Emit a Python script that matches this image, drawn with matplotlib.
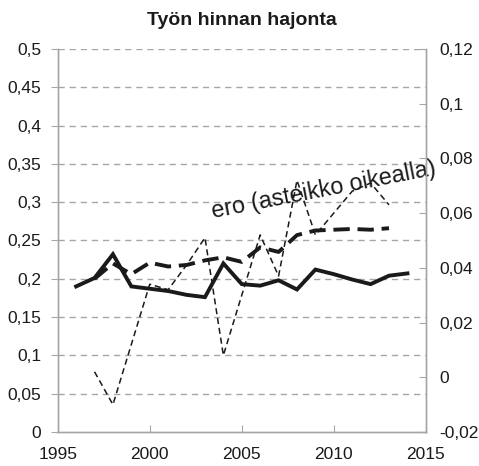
import matplotlib
matplotlib.use('Agg')
import matplotlib.pyplot as plt

plt.rcParams['font.family'] = ['Liberation Sans', 'DejaVu Sans']

# vuodet ja sarjat
years_solid = list(range(1996, 2015))
solid = [0.190, 0.201, 0.232, 0.190, 0.187, 0.184, 0.179, 0.176, 0.220, 0.193,
         0.191, 0.198, 0.186, 0.212, 0.206, 0.199, 0.193, 0.204, 0.207]

years_dash = list(range(1997, 2014))
dash = [0.200, 0.220, 0.206, 0.221, 0.216, 0.218, 0.224, 0.228, 0.222, 0.241,
        0.235, 0.257, 0.263, 0.264, 0.265, 0.264, 0.266]

years_ero = list(range(1997, 2014))
ero = [0.002, -0.010, 0.012, 0.034, 0.032, 0.041, 0.051, 0.008, 0.030, 0.052,
       0.037, 0.072, 0.052, 0.060, 0.068, 0.071, 0.063]

left_ticks = [0, 0.05, 0.1, 0.15, 0.2, 0.25, 0.3, 0.35, 0.4, 0.45, 0.5]
right_ticks = [-0.02, 0, 0.02, 0.04, 0.06, 0.08, 0.1, 0.12]
x_ticks = [1995, 2000, 2005, 2010, 2015]


def fi(v):
    s = ('%g' % v).replace('.', ',')
    return s


fig = plt.figure(figsize=(4.79, 4.66), dpi=100)
ax = fig.add_axes([0.1205, 0.073, 0.7685, 0.822])
ax2 = ax.twinx()

grey = '#a6a6a6'
ink = '#1a1a1a'
fs = 12.5

ax.plot(years_solid, solid, color=ink, lw=2.8, solid_joinstyle='miter', zorder=3)
ax.plot(years_dash, dash, color=ink, lw=2.8, dashes=(4.2, 2.0), zorder=3)
ax2.plot(years_ero, ero, color=ink, lw=1.1, dashes=(4, 2.5))

ax.set_xlim(1995, 2015)
ax.set_ylim(0, 0.5)
ax2.set_ylim(-0.02, 0.12)

ax.set_xticks(x_ticks)
ax.set_yticks(left_ticks)
ax.set_yticklabels([fi(v) for v in left_ticks])
ax2.set_yticks(right_ticks)
ax2.set_yticklabels([fi(v) for v in right_ticks])

for v in left_ticks[1:]:
    ax.axhline(v, color=grey, lw=1.0, dashes=(4.5, 3.5), zorder=1)

for a in (ax, ax2):
    a.spines['top'].set_visible(False)
    for s in ('left', 'right', 'bottom'):
        a.spines[s].set_color(grey)
        a.spines[s].set_linewidth(1.0)

ax.tick_params(axis='y', direction='out', length=5, color=grey, labelsize=fs,
               labelcolor=ink, pad=7)
ax.tick_params(axis='x', direction='in', length=5, color=grey, labelsize=fs,
               labelcolor=ink, pad=11)
ax2.tick_params(axis='y', direction='in', length=5, color=grey, labelsize=fs,
                labelcolor=ink, pad=10)

fig.text(0.505, 0.955, 'Työn hinnan hajonta', ha='center', va='center',
         fontsize=14, fontweight='bold', color=ink)

ax.text(2003.45, 0.279, 'ero (asteikko oikealla)', rotation=11, rotation_mode='anchor',
        ha='left', va='baseline', fontsize=16.8, color=ink, zorder=5)

fig.savefig('out.png', dpi=100)
